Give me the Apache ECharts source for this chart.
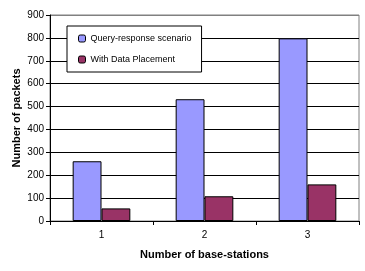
<!DOCTYPE html>
<html><head><meta charset="utf-8">
<script src="https://cdn.jsdelivr.net/npm/echarts@6/dist/echarts.min.js"></script>
<style>html,body{margin:0;padding:0;background:#fff}#c{width:365px;height:271px}</style>
</head><body><div id="c"></div>
<script>
var categories = ['1', '2', '3'];
var queryResponse = [261, 532, 798];
var withPlacement = [55, 108, 160];
var seriesNames = ['Query-response scenario', 'With Data Placement'];
var yTicks = [0, 100, 200, 300, 400, 500, 600, 700, 800, 900];

var chart = echarts.init(document.getElementById('c'), null, {renderer: 'canvas'});
var font = 'Liberation Sans, Arial, sans-serif';
var splitColors = yTicks.map(function (v, i) { return i === yTicks.length - 1 ? '#808080' : '#000'; });
chart.setOption({
  animation: false,
  backgroundColor: '#fff',
  textStyle: {fontFamily: font},
  grid: {left: 50, right: 6, top: 15, bottom: 50, show: true, borderColor: '#808080', borderWidth: 1, backgroundColor: '#fff',
         containLabel: false, outerBoundsMode: 'none'},
  legend: {
    orient: 'vertical', left: 67, top: 26,
    data: seriesNames,
    itemWidth: 7, itemHeight: 7, itemGap: 12,
    padding: [8, 10, 8, 11],
    borderColor: '#000', borderWidth: 1, backgroundColor: '#fff',
    textStyle: {fontSize: 9, color: '#000', fontFamily: font},
    itemStyle: {borderColor: '#000', borderWidth: 1}
  },
  xAxis: {
    type: 'category', data: categories,
    name: 'Number of base-stations', nameLocation: 'middle', nameGap: 28,
    nameTextStyle: {fontSize: 11, fontWeight: 'bold', color: '#000'},
    axisLine: {lineStyle: {color: '#000', width: 1}},
    axisTick: {show: true, length: 4, lineStyle: {color: '#000'}},
    axisLabel: {fontSize: 10, color: '#000', margin: 9}
  },
  yAxis: {
    type: 'value', min: 0, max: 900, interval: 100,
    name: 'Number of packets', nameLocation: 'middle', nameGap: 28, nameMoveOverlap: false,
    nameTextStyle: {fontSize: 11, fontWeight: 'bold', color: '#000'},
    axisLine: {show: true, lineStyle: {color: '#000', width: 1}},
    axisTick: {show: true, length: 4, lineStyle: {color: '#000'}},
    axisLabel: {fontSize: 10, color: '#000', margin: 6},
    splitLine: {show: true, lineStyle: {color: splitColors, width: 1}}
  },
  series: [
    {name: seriesNames[0], type: 'bar', data: queryResponse, barGap: '0%', barCategoryGap: '44%',
     itemStyle: {color: '#9999FF', borderColor: '#000', borderWidth: 1}},
    {name: seriesNames[1], type: 'bar', data: withPlacement,
     itemStyle: {color: '#993366', borderColor: '#000', borderWidth: 1}}
  ]
});
</script></body></html>
